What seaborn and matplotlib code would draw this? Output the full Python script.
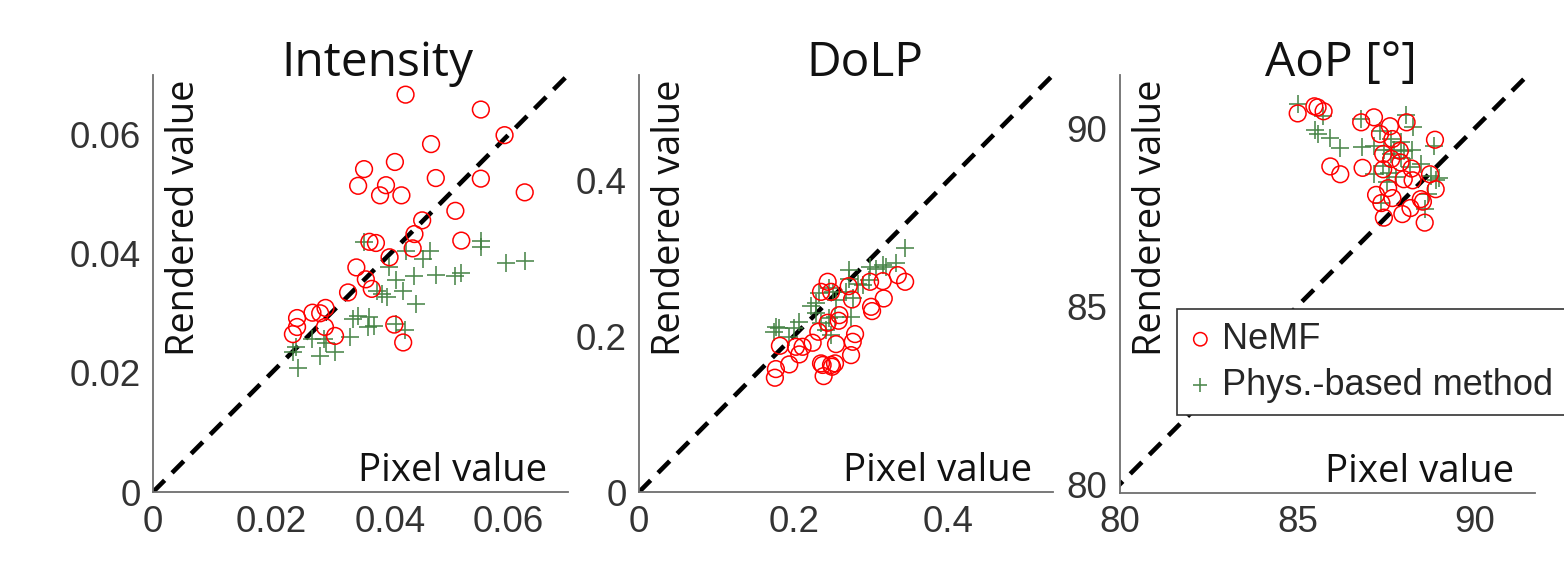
import numpy as np
import pandas as pd
import matplotlib
matplotlib.use("Agg")
import matplotlib.pyplot as plt
import seaborn as sns

# ---------------- data ----------------
titles = ["Intensity", "DoLP", "AoP [°]"]
series_names = ["NeMF", "Phys.-based method"]

int_nemf_x = [0.0426, 0.0553, 0.0593, 0.0469, 0.0408, 0.0356, 0.0346, 0.0393, 0.0383, 0.0419,
              0.0477, 0.0553, 0.0627, 0.0510, 0.0454, 0.0441, 0.0438, 0.0520, 0.0365, 0.0376,
              0.0399, 0.0343, 0.0359, 0.0369, 0.0329, 0.0291, 0.0269, 0.0282, 0.0243, 0.0243,
              0.0290, 0.0236, 0.0307, 0.0407, 0.0422]
int_nemf_y = [0.0667, 0.0642, 0.0599, 0.0584, 0.0554, 0.0542, 0.0514, 0.0515, 0.0498, 0.0498,
              0.0527, 0.0526, 0.0503, 0.0472, 0.0456, 0.0433, 0.0409, 0.0422, 0.0420, 0.0418,
              0.0394, 0.0377, 0.0357, 0.0341, 0.0335, 0.0309, 0.0301, 0.0300, 0.0292, 0.0277,
              0.0277, 0.0265, 0.0262, 0.0281, 0.0251]
int_phys_x = [0.0356, 0.0553, 0.0553, 0.0427, 0.0468, 0.0455, 0.0398, 0.0596, 0.0628, 0.0410,
              0.0440, 0.0478, 0.0510, 0.0520, 0.0378, 0.0387, 0.0395, 0.0421, 0.0443, 0.0345,
              0.0338, 0.0365, 0.0362, 0.0373, 0.0410, 0.0425, 0.0332, 0.0269, 0.0289, 0.0292,
              0.0307, 0.0281, 0.0236, 0.0242, 0.0244]
int_phys_y = [0.0419, 0.0422, 0.0411, 0.0405, 0.0405, 0.0391, 0.0377, 0.0384, 0.0388, 0.0356,
              0.0363, 0.0364, 0.0362, 0.0368, 0.0338, 0.0333, 0.0328, 0.0337, 0.0315, 0.0295,
              0.0291, 0.0293, 0.0277, 0.0278, 0.0282, 0.0272, 0.0261, 0.0256, 0.0256, 0.0250,
              0.0235, 0.0229, 0.0235, 0.0243, 0.0208]

dolp_nemf_x = [0.2438, 0.2710, 0.2352, 0.2481, 0.2986, 0.3150, 0.3344, 0.3439, 0.3163, 0.2999,
               0.3012, 0.2753, 0.2589, 0.2580, 0.2438, 0.2317, 0.2792, 0.2762, 0.2546, 0.2244,
               0.2114, 0.2028, 0.1821, 0.2071, 0.1942, 0.1769, 0.1756, 0.2352, 0.2373, 0.2481,
               0.2533, 0.2386, 0.2494, 0.2740]
dolp_nemf_y = [0.2697, 0.2641, 0.2568, 0.2568, 0.2697, 0.2705, 0.2782, 0.2697, 0.2483, 0.2376,
               0.2321, 0.2470, 0.2269, 0.2197, 0.2171, 0.2056, 0.2026, 0.1927, 0.1897, 0.1915,
               0.1863, 0.1863, 0.1876, 0.1765, 0.1637, 0.1577, 0.1466, 0.1650, 0.1630, 0.1630,
               0.1650, 0.1487, 0.1607, 0.1756]
dolp_phys_x = [0.3439, 0.3323, 0.3150, 0.3064, 0.2986, 0.2718, 0.2718, 0.2969, 0.2826, 0.2460,
               0.2675, 0.2330, 0.2762, 0.2222, 0.2537, 0.2740, 0.2460, 0.2352, 0.2071, 0.2006,
               0.1769, 0.1812, 0.1748, 0.1942, 0.2481, 0.2287, 0.2546, 0.2416, 0.2287, 0.2503,
               0.2891, 0.3193]
dolp_phys_y = [0.3132, 0.2940, 0.2910, 0.2867, 0.2889, 0.2846, 0.2739, 0.2718, 0.2675, 0.2611,
               0.2568, 0.2547, 0.2483, 0.2385, 0.2248, 0.2248, 0.2227, 0.2162, 0.2184, 0.2098,
               0.2120, 0.2098, 0.2056, 0.1991, 0.2013, 0.2291, 0.2457, 0.2077, 0.2419, 0.2568,
               0.2654, 0.2889]

aop_nemf_x = [85.01, 85.48, 85.57, 85.74, 86.80, 87.16, 87.61, 88.08, 87.33, 87.68,
              88.88, 87.42, 87.89, 87.65, 85.93, 86.21, 86.84, 87.42, 87.91, 88.22,
              88.74, 88.00, 88.25, 88.90, 87.56, 87.22, 87.68, 87.37, 88.48, 88.54,
              88.19, 87.96, 87.44, 88.59]
aop_nemf_y = [90.42, 90.62, 90.59, 90.48, 90.17, 90.31, 90.06, 90.17, 89.84, 89.70,
              89.68, 89.28, 89.37, 89.14, 88.93, 88.71, 88.89, 88.85, 89.04, 88.87,
              88.71, 88.57, 88.54, 88.29, 88.32, 88.13, 88.04, 87.90, 88.01, 87.94,
              87.76, 87.59, 87.49, 87.35]
aop_phys_x = [85.01, 85.71, 85.50, 85.57, 85.93, 86.21, 86.80, 88.05, 88.27, 87.33,
              87.65, 87.91, 86.82, 87.16, 87.45, 87.73, 88.00, 88.24, 87.65, 87.91,
              88.86, 88.48, 88.19, 87.42, 87.16, 87.58, 87.77, 88.76, 89.00, 88.90,
              87.37, 88.68, 88.59, 87.53]
aop_phys_y = [90.68, 90.35, 89.96, 89.84, 89.72, 89.44, 90.25, 90.37, 90.05, 89.93,
              89.70, 89.62, 89.49, 89.51, 89.40, 89.40, 89.37, 89.40, 89.28, 89.18,
              89.51, 88.99, 88.90, 88.94, 88.71, 88.74, 88.62, 88.66, 88.60, 88.54,
              87.90, 88.15, 87.73, 88.48]

xlims = [(0, 0.07), (0, 0.535), (80, 91.7)]
ylims = [(0, 0.07), (0, 0.535), (79.75, 91.5)]
xticks = [[0, 0.02, 0.04, 0.06], [0, 0.2, 0.4], [80, 85, 90]]
xticklabels = [["0", "0.02", "0.04", "0.06"], ["0", "0.2", "0.4"], ["80", "85", "90"]]
yticks = xticks
yticklabels = xticklabels

panels = [
    (int_nemf_x, int_nemf_y, int_phys_x, int_phys_y),
    (dolp_nemf_x, dolp_nemf_y, dolp_phys_x, dolp_phys_y),
    (aop_nemf_x, aop_nemf_y, aop_phys_x, aop_phys_y),
]

# ---------------- style ----------------
sns.set_style("white")
plt.rcParams["font.family"] = ["Liberation Sans", "DejaVu Sans"]
label_font = ["Open Sans", "DejaVu Sans"]

W, H = 1564, 566
fig = plt.figure(figsize=(W / 100, H / 100), dpi=100)

axes_px = [(153, 568, 75, 492), (639, 1053, 75, 492), (1120, 1535, 75, 493)]
title_x = [0.54, 0.546, 0.533]

red = "#ff0000"
green = "#3f7f3f"

for i, (nx, ny, px, py) in enumerate(panels):
    l, r, t, b = axes_px[i]
    ax = fig.add_axes([l / W, (H - b) / H, (r - l) / W, (b - t) / H])
    ax.set_xlim(*xlims[i])
    ax.set_ylim(*ylims[i])

    lo = min(xlims[i][0], ylims[i][0])
    hi = max(xlims[i][1], ylims[i][1])
    ax.plot([lo, hi], [lo, hi], color="black", lw=3.3,
            dashes=(3.6, 2.3), dash_capstyle="butt", zorder=1)

    sns.scatterplot(x=px, y=py, ax=ax, marker="+", s=150, color=green,
                    linewidth=1.2, alpha=0.9, zorder=2,
                    label=series_names[1] if i == 2 else None)
    sns.scatterplot(x=nx, y=ny, ax=ax, marker="o", s=145, facecolors="none",
                    edgecolor=red, linewidth=1.1, zorder=3,
                    label=series_names[0] if i == 2 else None)

    for side in ["top", "right"]:
        ax.spines[side].set_visible(False)
    for side in ["left", "bottom"]:
        ax.spines[side].set_color("#6e6e6e")
        ax.spines[side].set_linewidth(1.3)

    ax.set_xticks(xticks[i])
    ax.set_xticklabels(xticklabels[i])
    ax.set_yticks(yticks[i])
    ax.set_yticklabels(yticklabels[i])
    ax.tick_params(direction="in", length=4, width=1, color="#6e6e6e",
                   labelsize=26.5, labelcolor="#333333", pad=9)
    ax.set_xlabel("")
    ax.set_ylabel("")

    ax.text(title_x[i], 0.998, titles[i], transform=ax.transAxes,
            ha="center", va="baseline", fontsize=34.5, family=label_font,
            color="#111111")
    ax.text(0.029, 0.988, "Rendered value", transform=ax.transAxes,
            rotation=90, ha="left", va="top", fontsize=27.3, family=label_font,
            color="#111111")
    ax.text(0.95, 0.027, "Pixel value", transform=ax.transAxes,
            ha="right", va="baseline", fontsize=27.6, family=label_font,
            color="#111111")

    if i == 2:
        handles, labels = ax.get_legend_handles_labels()
        order = [labels.index(series_names[0]), labels.index(series_names[1])]
        leg = ax.legend([handles[k] for k in order], [labels[k] for k in order],
                        loc="upper left", bbox_to_anchor=(0.137, 0.44),
                        borderaxespad=0, fontsize=26, frameon=True,
                        fancybox=False, framealpha=1, edgecolor="#333333",
                        handlelength=0.6, handletextpad=0.3, borderpad=0.35,
                        labelspacing=0.3, markerscale=0.8)
        leg.get_frame().set_linewidth(1.2)
        leg.set_zorder(10)
    else:
        if ax.get_legend() is not None:
            ax.get_legend().remove()

fig.savefig("out.png", dpi=100, facecolor="white")
